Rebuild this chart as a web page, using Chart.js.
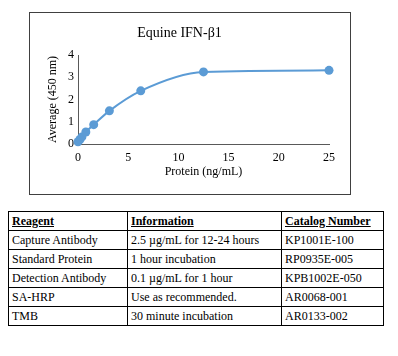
<!DOCTYPE html>
<html>
<head>
<meta charset="utf-8">
<script src="https://cdn.jsdelivr.net/npm/chart.js@4/dist/chart.umd.min.js"></script>
<style>
  html, body { margin: 0; padding: 0; background: #ffffff; }
  body { width: 398px; height: 356px; position: relative; overflow: hidden; font-family: "Liberation Serif", "DejaVu Serif", serif; }
  #box { position: absolute; left: 29px; top: 12px; width: 320px; height: 181px; border: 1px solid #404040; }
  #wrap { position: absolute; left: 0; top: 0; width: 320px; height: 181px; }
  table { position: absolute; left: 8px; top: 211px; border-collapse: collapse; table-layout: fixed; width: 375px; font-size: 12px; color: #000; }
  td, th { border: 1px solid #000; height: 18px; padding: 0 3px; text-align: left; white-space: nowrap; font-weight: normal; line-height: 18px; }
  th { text-decoration: underline; font-weight: bold; }
</style>
</head>
<body>
<script>
// ---- data ----
const chartTitle = "Equine IFN-β1";
const xAxisTitle = "Protein (ng/mL)";
const yAxisTitle = "Average (450 nm)";
const proteinConc = [0, 0.195, 0.39, 0.78, 1.5625, 3.125, 6.25, 12.5, 25];
const absorbance  = [0.10, 0.20, 0.32, 0.54, 0.87, 1.49, 2.39, 3.24, 3.31];
const xTickValues = [0, 5, 10, 15, 20, 25];
const yTickValues = [0, 1, 2, 3, 4];

const tableHeaders = ["Reagent", "Information", "Catalog Number"];
const reagents = ["Capture Antibody", "Standard Protein", "Detection Antibody", "SA-HRP", "TMB"];
const information = ["2.5 µg/mL for 12-24 hours", "1 hour incubation", "0.1 µg/mL for 1 hour", "Use as recommended.", "30 minute incubation"];
const catalogNumbers = ["KP1001E-100", "RP0935E-005", "KPB1002E-050", "AR0068-001", "AR0133-002"];
</script>

<div id="box"><div id="wrap"><canvas id="c" width="320" height="181"></canvas></div></div>
<table id="tbl">
  <colgroup><col style="width:119px"><col style="width:154px"><col style="width:102px"></colgroup>
  <thead><tr id="hdr"></tr></thead>
  <tbody id="body"></tbody>
</table>

<script>
// build table from arrays
const hdr = document.getElementById('hdr');
tableHeaders.forEach(h => { const th = document.createElement('th'); th.textContent = h; hdr.appendChild(th); });
const tb = document.getElementById('body');
reagents.forEach((r, i) => {
  const tr = document.createElement('tr');
  [r, information[i], catalogNumbers[i]].forEach(v => { const td = document.createElement('td'); td.textContent = v; tr.appendChild(td); });
  tb.appendChild(tr);
});

const serif = "'Liberation Serif', 'DejaVu Serif', serif";
const pts = proteinConc.map((x, i) => ({ x: x, y: absorbance[i] }));

new Chart(document.getElementById('c'), {
  type: 'scatter',
  data: {
    datasets: [{
      data: pts,
      showLine: true,
      borderColor: '#5b9bd5',
      backgroundColor: '#5b9bd5',
      borderWidth: 2,
      pointRadius: 4.5,
      pointHoverRadius: 4.5,
      pointBorderWidth: 0,
      cubicInterpolationMode: 'monotone',
      clip: false
    }]
  },
  options: {
    responsive: false,
    animation: false,
    events: [],
    layout: { padding: { left: 0, right: 21, top: 0, bottom: 0 } },
    plugins: {
      legend: { display: false },
      tooltip: { enabled: false },
      title: {
        display: true,
        text: chartTitle,
        color: '#000',
        font: { family: serif, size: 14, weight: 'normal', lineHeight: 1.2 },
        padding: { top: 12, bottom: 13.2 }
      }
    },
    scales: {
      x: {
        type: 'linear',
        min: 0, max: 25,
        afterFit: s => { s.height = 50; },
        afterBuildTicks: s => { s.ticks = xTickValues.map(v => ({ value: v })); },
        ticks: { color: '#000', font: { family: serif, size: 12 }, padding: 7, maxRotation: 0 },
        grid: { display: true, drawOnChartArea: false, drawTicks: false },
        border: { display: true, color: '#595959', width: 1 },
        title: { display: true, text: xAxisTitle, color: '#000', font: { family: serif, size: 12, lineHeight: 1.2 }, padding: { top: 0, bottom: 14.8 } }
      },
      y: {
        type: 'linear',
        min: 0, max: 4,
        afterFit: s => { s.width = 48; },
        afterBuildTicks: s => { s.ticks = yTickValues.map(v => ({ value: v })); },
        ticks: { color: '#000', font: { family: serif, size: 12 }, padding: 4 },
        grid: { display: true, drawOnChartArea: false, drawTicks: false },
        border: { display: true, color: '#595959', width: 1 },
        title: { display: true, text: yAxisTitle, color: '#000', font: { family: serif, size: 12, lineHeight: 1.2 }, padding: { top: 16, bottom: 0 } }
      }
    }
  }
});
</script>
</body>
</html>
